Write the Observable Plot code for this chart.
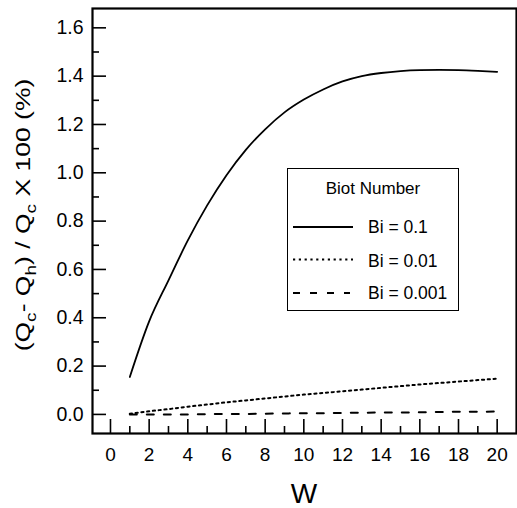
<!DOCTYPE html>
<html>
<head>
<meta charset="utf-8">
<script src="https://cdn.jsdelivr.net/npm/d3@7"></script>
<script src="https://cdn.jsdelivr.net/npm/@observablehq/plot@0.6"></script>
<style>
  html, body { margin: 0; padding: 0; background: #fff; }
  #wrap { position: relative; width: 517px; height: 508px; font-family: "Liberation Sans", Arial, sans-serif; }
  #legend { position: absolute; left: 287px; top: 168px; width: 170px; height: 141px; border: 1.5px solid #000; background: #fff; box-sizing: content-box; }
  #legend .title { position: absolute; left: 0; width: 100%; top: 10px; text-align: center; font-size: 17px; }
  #legend .row { position: absolute; left: 4px; height: 20px; font-size: 17.5px; }
  #legend .row svg { position: absolute; left: 0; top: 0; }
  #legend .row span { position: absolute; left: 76px; top: 0; white-space: nowrap; line-height: 20px; }
</style>
</head>
<body>
<div id="wrap"></div>
<script>
// Data
const W = [1, 2, 3, 4, 5, 6, 7, 8, 9, 10, 11, 12, 13, 14, 15, 16, 17, 18, 19, 20];
const bi01 = [0.155, 0.385, 0.555, 0.72, 0.865, 0.99, 1.095, 1.18, 1.25, 1.303, 1.345, 1.378, 1.40, 1.413, 1.421, 1.425, 1.426, 1.425, 1.422, 1.418];
const bi001 = [0.003, 0.013, 0.022, 0.032, 0.041, 0.050, 0.058, 0.066, 0.074, 0.082, 0.089, 0.096, 0.103, 0.110, 0.117, 0.124, 0.130, 0.136, 0.142, 0.148];
const bi0001 = [0.0, 0.0, 0.0, 0.0, 0.001, 0.002, 0.002, 0.003, 0.004, 0.005, 0.005, 0.006, 0.007, 0.008, 0.008, 0.009, 0.010, 0.011, 0.011, 0.012];
const seriesNames = ["Bi = 0.1", "Bi = 0.01", "Bi = 0.001"];
const seriesDash = [null, "2.2,3.6", "7,10"];
const xMajor = [0, 2, 4, 6, 8, 10, 12, 14, 16, 18, 20];
const xMinor = [1, 3, 5, 7, 9, 11, 13, 15, 17, 19];
const yMajor = [0, 0.2, 0.4, 0.6, 0.8, 1.0, 1.2, 1.4, 1.6];
const yMinor = [0.1, 0.3, 0.5, 0.7, 0.9, 1.1, 1.3, 1.5];
const legendTitle = "Biot Number";
const xTitle = "W";

const seriesValues = [bi01, bi001, bi0001];
const rows = [];
seriesValues.forEach((vals, s) => vals.forEach((v, i) => rows.push({W: W[i], v, s: seriesNames[s]})));

const lineMarks = seriesNames.map((name, s) =>
  Plot.line(rows.filter(d => d.s === name), {
    x: "W", y: "v", curve: "monotone-x", stroke: "#000",
    strokeWidth: s === 0 ? 1.8 : 2, strokeDasharray: seriesDash[s]
  })
);

const chart = Plot.plot({
  width: 517,
  height: 508,
  marginLeft: 92,
  marginRight: 1,
  marginTop: 8,
  marginBottom: 75,
  style: { fontFamily: "Liberation Sans, Arial, sans-serif", fontSize: "19px", color: "#000", background: "#fff" },
  x: { domain: [-0.93, 21], label: null },
  y: { domain: [-0.079, 1.68], label: null },
  marks: [
    ...lineMarks,
    Plot.axisX({ticks: xMajor, tickSize: -14, tickPadding: 0, tickFormat: () => "", strokeWidth: 1.6, label: null}),
    Plot.axisX({ticks: xMinor, tickSize: -7, tickFormat: () => "", strokeWidth: 1.6, label: null}),
    Plot.axisX({ticks: xMajor, tickSize: 0, tickPadding: 14, fontSize: 19, label: null}),
    Plot.axisY({ticks: yMajor, tickSize: -14, tickFormat: () => "", strokeWidth: 1.6, label: null}),
    Plot.axisY({ticks: yMinor, tickSize: -7, tickFormat: () => "", strokeWidth: 1.6, label: null}),
    Plot.axisY({ticks: yMajor, tickSize: 0, tickPadding: 9, tickFormat: d3.format(".1f"), fontSize: 19.5, label: null}),
    Plot.frame({strokeWidth: 2.2})
  ]
});

const wrap = document.getElementById("wrap");
wrap.appendChild(chart);

// Axis titles as real text (subscripts via tspans)
const svg = d3.select(chart);
svg.append("text")
  .attr("x", 304).attr("y", 503)
  .attr("text-anchor", "middle")
  .attr("font-size", 28)
  .attr("font-family", "Liberation Sans, Arial, sans-serif")
  .attr("fill", "#000")
  .text(xTitle);

const yl = svg.append("text")
  .attr("transform", "translate(30,215) rotate(-90) scale(1.36,1)")
  .attr("text-anchor", "middle")
  .attr("font-size", 19.5)
  .attr("font-family", "Liberation Sans, Arial, sans-serif")
  .attr("fill", "#000");
const parts = [["(Q", 0], ["c", 1], ["- Q", 0], ["h", 1], [") / Q", 0], ["c", 1], [" X 100 (%)", 0]];
let prevSub = 0;
parts.forEach(([t, sub]) => {
  const ts = yl.append("tspan").text(t);
  if (sub) ts.attr("font-size", 14);
  const dy = sub && !prevSub ? "6" : (!sub && prevSub ? "-6" : null);
  if (dy) ts.attr("dy", dy);
  prevSub = sub;
});

// Legend
const lg = document.createElement("div");
lg.id = "legend";
const tdiv = document.createElement("div");
tdiv.className = "title";
tdiv.textContent = legendTitle;
lg.appendChild(tdiv);
const rowTops = [48, 82, 114];
seriesNames.forEach((name, s) => {
  const r = document.createElement("div");
  r.className = "row";
  r.style.top = rowTops[s] + "px";
  r.style.width = "160px";
  const sw = d3.create("svg").attr("width", 64).attr("height", 20);
  sw.append("line").attr("x1", 1).attr("x2", s === 2 ? 58 : 61).attr("y1", s === 1 ? 8.5 : 10).attr("y2", s === 1 ? 8.5 : 10)
    .attr("stroke", "#000").attr("stroke-width", s === 0 ? 1.8 : 2)
    .attr("stroke-dasharray", seriesDash[s]);
  r.appendChild(sw.node());
  const sp = document.createElement("span");
  sp.textContent = name;
  r.appendChild(sp);
  lg.appendChild(r);
});
wrap.appendChild(lg);
</script>
</body>
</html>
